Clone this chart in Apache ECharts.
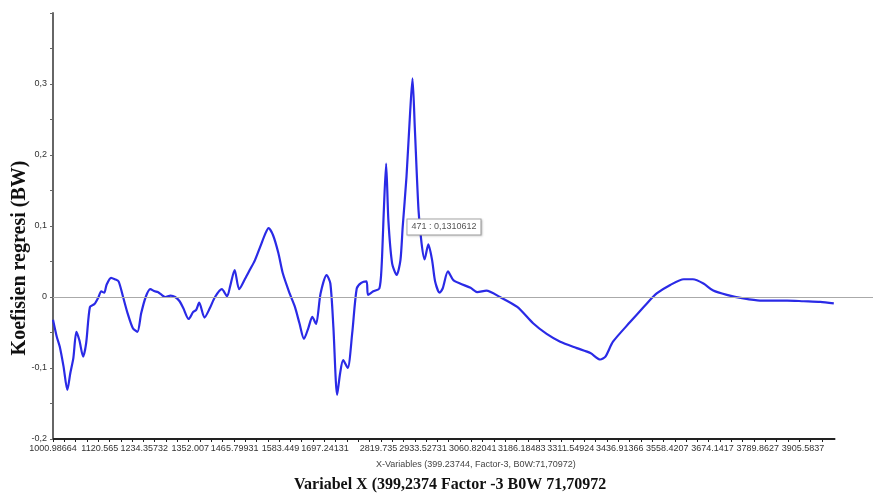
<!DOCTYPE html>
<html>
<head>
<meta charset="utf-8">
<script src="https://cdn.jsdelivr.net/npm/echarts@6/dist/echarts.min.js"></script>
<style>html,body{margin:0;padding:0;background:#fff;}#c{width:873px;height:493px;}</style>
</head>
<body>
<div id="c"></div>
<script>
// x tick labels (wavenumbers) and the variable index at which each is shown
const xLabels = ['1000.98664','1120.565','1234.35732','1352.007','1465.79931','1583.449','1697.24131','2819.735','2933.52731','3060.82041','3186.18483','3311.54924','3436.91366','3558.4207','3674.1417','3789.8627','3905.5837'];
const xLabelIndex = [0,62,121,182,241,302,361,432,491,557,622,687,752,815,875,935,995];
// variable index
const varIndex = [0,5,9,14,19,23,27,31,35,40,44,49,55,60,64,68,71,77,82,87,93,99,106,112,117,123,129,135,139,143,149,156,162,168,173,180,186,190,194,201,208,215,224,231,235,241,247,255,261,268,275,282,286,292,299,305,314,321,327,333,339,344,349,355,363,368,372,377,381,385,391,397,403,409,416,418,425,433,436,439,442,445,450,456,461,464,469,474,477,480,485,489,493,498,503,507,513,517,524,531,540,554,563,575,593,616,637,655,673,695,713,726,733,743,766,788,801,819,837,849,863,876,894,916,938,974,996,1018,1036];
// regression coefficient (BW)
const coef = [-0.032,-0.056,-0.070,-0.098,-0.131,-0.107,-0.086,-0.049,-0.061,-0.084,-0.065,-0.014,-0.010,-0.001,0.008,0.006,0.017,0.027,0.025,0.022,0.000,-0.023,-0.044,-0.049,-0.023,0.000,0.011,0.008,0.007,0.004,0.000,0.002,0.000,-0.006,-0.016,-0.031,-0.021,-0.018,-0.008,-0.029,-0.016,0.000,0.011,0.001,0.015,0.038,0.011,0.026,0.038,0.052,0.071,0.090,0.097,0.087,0.062,0.033,0.005,-0.014,-0.037,-0.059,-0.043,-0.028,-0.038,0.005,0.031,0.019,-0.042,-0.138,-0.107,-0.089,-0.100,-0.051,0.012,0.020,0.022,0.003,0.008,0.012,0.043,0.123,0.188,0.108,0.047,0.031,0.052,0.099,0.169,0.263,0.308,0.240,0.122,0.076,0.053,0.074,0.052,0.022,0.006,0.012,0.036,0.024,0.019,0.013,0.007,0.009,0.000,-0.014,-0.037,-0.052,-0.063,-0.072,-0.079,-0.088,-0.084,-0.063,-0.035,-0.009,0.005,0.017,0.025,0.025,0.019,0.009,0.003,-0.002,-0.005,-0.005,-0.006,-0.007,-0.009];
const yTicks = [-0.2,-0.1,0,0.1,0.2,0.3];
const tipIndex = 471, tipValue = 0.1310612;

const lastVar = 1038;
const xMax = 1088;
const tickValues = [];
for (let v = 0; v <= lastVar - 4; v += 15) tickValues.push(v);

const fmtNum = v => String(+v.toFixed(2)).replace('.', ',');

const chart = echarts.init(document.getElementById('c'), null, {renderer: 'canvas'});
chart.setOption({
  animation: false,
  backgroundColor: '#fff',
  grid: {left: 53, right: 0, top: 13, bottom: 54, containLabel: false, outerBoundsMode: 'none'},
  title: [
    {text: 'X-Variables (399.23744, Factor-3, B0W:71,70972)', left: 371, top: 455,
     textStyle: {fontFamily: 'Liberation Sans, Arial', fontSize: 9, fontWeight: 'normal', color: '#444'}},
    {text: 'Variabel X (399,2374 Factor -3 B0W 71,70972', left: 289, top: 472,
     textStyle: {fontFamily: 'Liberation Serif, Times New Roman', fontSize: 16, fontWeight: 'bold', color: '#111'}}
  ],
  graphic: [{
    type: 'text', x: 20, y: 258, rotation: Math.PI / 2,
    style: {text: 'Koefisien regresi (BW)', align: 'center', verticalAlign: 'middle',
      font: 'bold 20px "Liberation Serif", "Times New Roman", serif', fill: '#111'}
  }],
  xAxis: {
    type: 'value', min: 0, max: xMax,
    axisLine: {show: false, onZero: false},
    splitLine: {show: false},
    axisTick: {show: true, customValues: tickValues, length: 3, lineStyle: {color: '#222', width: 1}},
    axisLabel: {
      customValues: xLabelIndex, margin: 5,
      fontFamily: 'Liberation Sans, Arial', fontSize: 9, color: '#333',
      formatter: v => xLabels[xLabelIndex.indexOf(Math.round(v))] || ''
    }
  },
  yAxis: {
    type: 'value', min: -0.2, max: 0.4, interval: 0.05,
    axisLine: {show: true, lineStyle: {color: '#666', width: 2}},
    axisTick: {show: true, length: 3, lineStyle: {color: '#666'}},
    splitLine: {show: false},
    axisLabel: {
      fontFamily: 'Liberation Sans, Arial', fontSize: 9, color: '#333', margin: 6,
      formatter: v => yTicks.some(t => Math.abs(t - v) < 1e-6) ? fmtNum(v) : ''
    }
  },
  series: [{
    type: 'line',
    data: varIndex.map((x, i) => [x, coef[i]]),
    smooth: 0.25,
    showSymbol: false,
    lineStyle: {color: '#2a2ae6', width: 2.2},
    markLine: {
      silent: true, symbol: 'none', label: {show: false},
      data: [
        [{coord: [0, 0], lineStyle: {color: '#aaa', width: 1, type: 'solid'}}, {coord: [xMax, 0]}],
        [{coord: [0, -0.2], lineStyle: {color: '#222', width: 2, type: 'solid'}}, {coord: [lastVar, -0.2]}]
      ]
    },
    markPoint: {
      silent: true, symbol: 'rect', symbolSize: 0,
      data: [{coord: [tipIndex, tipValue]}],
      label: {
        show: true, position: 'inside', offset: [36, 23],
        formatter: () => tipIndex + ' : ' + String(tipValue).replace('.', ','),
        fontFamily: 'Liberation Sans, Arial', fontSize: 9, color: '#555',
        backgroundColor: '#fff', borderColor: '#aaa', borderWidth: 1, padding: [3, 4],
        shadowColor: 'rgba(0,0,0,0.15)', shadowBlur: 2, shadowOffsetX: 1, shadowOffsetY: 1
      }
    }
  }]
});
</script>
</body>
</html>
